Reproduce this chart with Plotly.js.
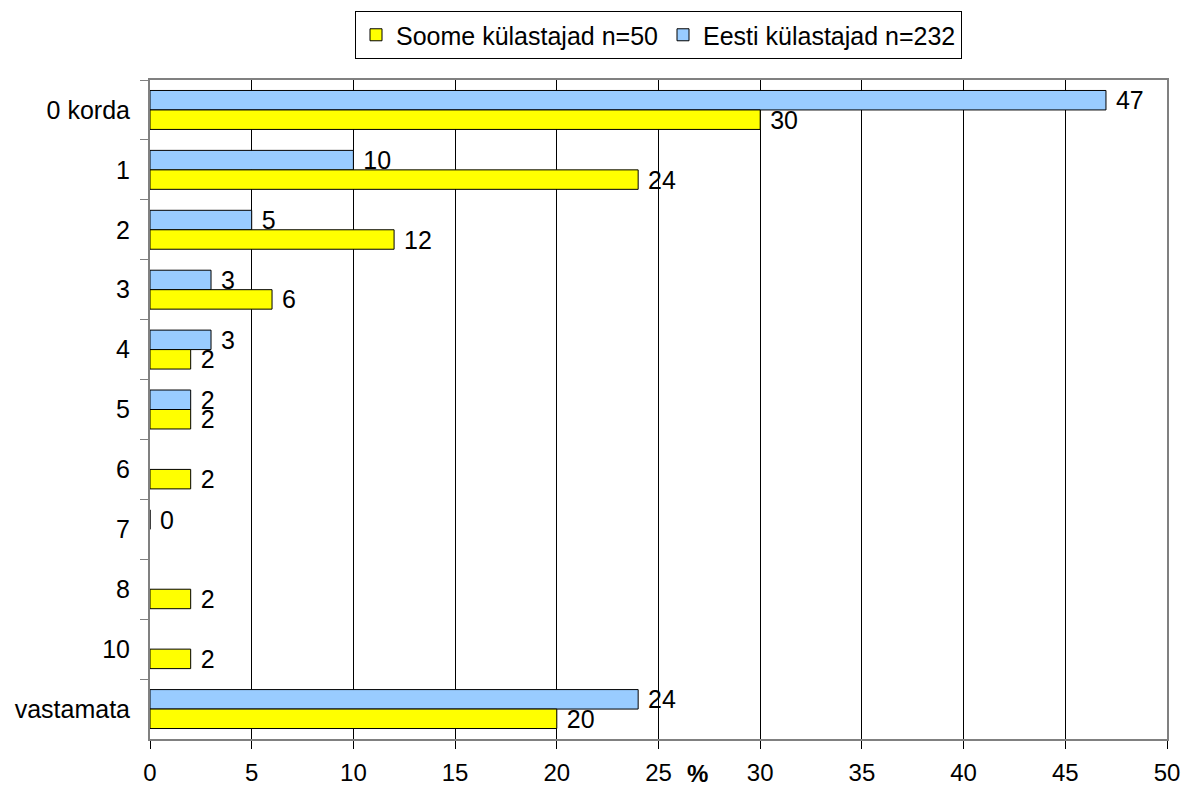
<!DOCTYPE html>
<html><head><meta charset="utf-8">
<script src="https://cdn.plot.ly/plotly-3.0.1.min.js"></script>
<style>body{margin:0;background:#fff}#c{width:1184px;height:787px}</style>
</head><body><div id="c"></div>
<script>
const categories = ["0 korda","1","2","3","4","5","6","7","8","10","vastamata"];
const soome = [30,24,12,6,2,2,2,null,2,2,20];
const eesti = [47,10,5,3,3,2,null,0,null,null,24];
const xTicks = [0,5,10,15,20,25,30,35,40,45,50];

const font = {family:"Liberation Sans, Arial, sans-serif", size:25, color:"#000"};
const xFont = {family:"Liberation Sans, Arial, sans-serif", size:24, color:"#000"};
const legendFont = {family:"Liberation Sans, Arial, sans-serif", size:25, color:"#000"};
const lbl = v => v.map(x => x === null ? "" : " " + String(x));

const traces = [
  {type:"bar", orientation:"h", name:"Eesti külastajad n=232", y:categories, x:eesti,
   marker:{color:"#99CCFF", line:{color:"#000", width:1}},
   text:lbl(eesti), textposition:"outside", textfont:font, constraintext:"none", cliponaxis:false, legendrank:2},
  {type:"bar", orientation:"h", name:"Soome külastajad n=50", y:categories, x:soome,
   marker:{color:"#FFFF00", line:{color:"#000", width:1}},
   text:lbl(soome), textposition:"outside", textfont:font, constraintext:"none", cliponaxis:false, legendrank:1}
];

const layout = {
  width:1184, height:787,
  margin:{l:150, r:17, t:80, b:48},
  paper_bgcolor:"#fff", plot_bgcolor:"#fff",
  font:font,
  barmode:"group", bargap:0.35, bargroupgap:0,
  showlegend:true,
  legend:{orientation:"h", x:0.5, xanchor:"center", xref:"paper", yref:"container", y:0.986, yanchor:"top",
          bordercolor:"#000", borderwidth:1, font:legendFont, traceorder:"normal", itemwidth:20},
  xaxis:{range:[0,50], tickvals:xTicks, ticktext:xTicks.map(String), showgrid:true, gridcolor:"#000", gridwidth:1,
         zeroline:false, ticks:"outside", ticklen:8, tickcolor:"#000", showline:true, linecolor:"#808080", linewidth:2,
         mirror:true, tickfont:xFont, ticklabelstandoff:3, automargin:false, fixedrange:true},
  yaxis:{type:"category", autorange:"reversed", tickson:"boundaries", ticks:"outside", ticklen:8, tickcolor:"#808080",
         showline:true, linecolor:"#808080", linewidth:2, mirror:true, showgrid:false, tickfont:font,
         ticklabelstandoff:13, automargin:false, fixedrange:true},
  annotations:[{text:"<b>%</b>", xref:"paper", yref:"paper", x:0.538, y:-0.052, xanchor:"center", yanchor:"middle",
                showarrow:false, font:xFont}]
};
Plotly.newPlot("c", traces, layout, {displayModeBar:false, staticPlot:true});
</script></body></html>
